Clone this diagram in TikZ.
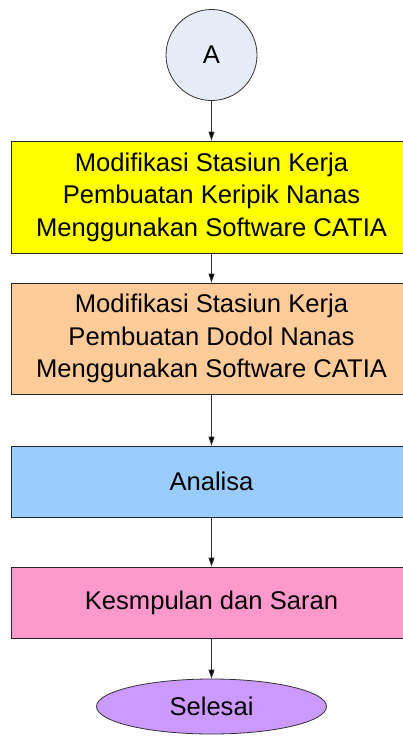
\documentclass[tikz,border=0pt]{standalone}
\usepackage{fontspec}
\setmainfont{Liberation Sans}
\usetikzlibrary{shapes.geometric,arrows.meta}

\definecolor{circlefill}{HTML}{E6ECF8}
\definecolor{boxyellow}{HTML}{FFFF00}
\definecolor{boxorange}{HTML}{FFCC99}
\definecolor{boxblue}{HTML}{99CCFF}
\definecolor{boxpink}{HTML}{FF99CC}
\definecolor{ellipsefill}{HTML}{CC99FF}

\begin{document}
\begin{tikzpicture}[x=1pt, y=1pt]
    \tikzstyle{every node}=[
        font = \fontsize{25.6}{32.5}\selectfont
    ]
    \tikzstyle{start state}=[
        draw = black!80,
        line width = 0.8pt,
        fill = circlefill,
        minimum size = 91pt,
        inner sep = 0pt,
        circle
    ]
    \tikzstyle{work box}=[
        draw = black!85,
        line width = 0.8pt,
        minimum width = 401pt,
        align = center,
        rectangle
    ]
    \tikzstyle{end state}=[
        draw = black!80,
        line width = 0.8pt,
        fill = ellipsefill,
        minimum width = 230pt,
        minimum height = 55pt,
        inner sep = 0pt,
        ellipse
    ]
    \tikzstyle{flow}=[
        draw = black!80,
        line width = 0.8pt,
        -{Triangle[length=9pt, width=6pt]}
    ]

    \useasboundingbox (0, 0) rectangle (402, -736);

	\node[start state] (a)       at (211.5, -55)    {A};
	\node[work box, fill = boxyellow, minimum height = 112pt] (keripik) at (211.5, -197)
	    {Modifikasi Stasiun Kerja\\Pembuatan Keripik Nanas\\Menggunakan Software CATIA};
	\node[work box, fill = boxorange, minimum height = 111pt] (dodol)   at (211.5, -338.5)
	    {Modifikasi Stasiun Kerja\\Pembuatan Dodol Nanas\\Menggunakan Software CATIA};
	\node[work box, fill = boxblue, minimum height = 71pt]    (analisa) at (211.5, -481.5) {Analisa};
	\node[work box, fill = boxpink, minimum height = 71pt]    (saran)   at (211.5, -602.5) {Kesmpulan dan Saran};
	\node[end state] (selesai)   at (211.5, -706.5) {Selesai};

	\path[flow] (a) edge (keripik);
	\path[flow] (keripik) edge (dodol);
	\path[flow] (dodol) edge (analisa);
	\path[flow] (analisa) edge (saran);
	\path[flow] (saran) edge (selesai);

\end{tikzpicture}
\end{document}
